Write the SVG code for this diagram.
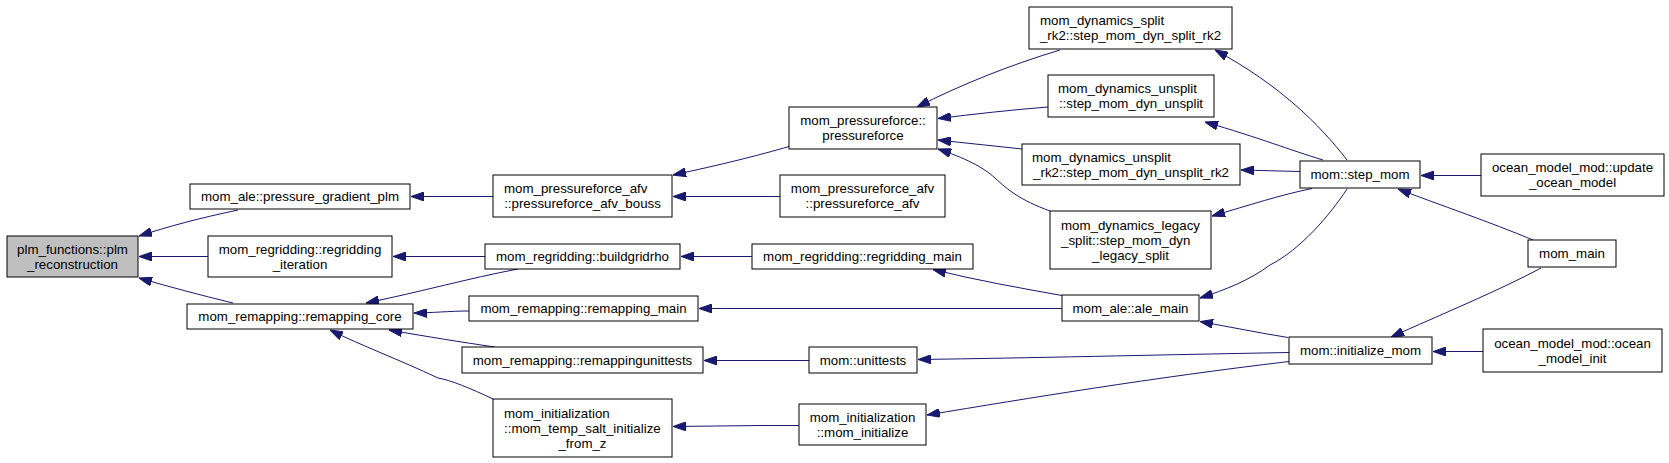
<svg xmlns="http://www.w3.org/2000/svg" width="1669" height="463" viewBox="0 0 1669 463">
<style>
.n rect{fill:#fff;stroke:#000;stroke-width:1}
.n text{font-family:"Liberation Sans",Arial,sans-serif;font-size:13.3px;fill:#000;text-anchor:middle}
.n text.s{text-anchor:start}
#edges path{fill:none;stroke:#191970;stroke-width:1;marker-end:url(#ah)}
</style>
<defs>
<marker id="ah" viewBox="0 0 13 9" markerWidth="13" markerHeight="9" refX="13" refY="4.5" orient="auto" markerUnits="userSpaceOnUse">
<path d="M0,0 L13,4.5 L0,9 z" fill="#191970" stroke="#191970" stroke-width="1"/>
</marker>
</defs>
<rect width="1669" height="463" fill="#fff"/>
<g id="edges">
<path d="M238,210 C200,218 170,226 139,236"/>
<path d="M208,256.5 L139,256.5"/>
<path d="M233,303 C200,295 170,287 139,278"/>
<path d="M493,196.5 L411,196.5"/>
<path d="M485,256.5 L393,256.5"/>
<path d="M518,269 C470,278 420,292 366,303"/>
<path d="M469,311 C450,311 430,313 414,313"/>
<path d="M495,347 C460,342 430,337 389,330"/>
<path d="M493,399 C470,388 450,380 438,378 C400,360 360,345 330,330"/>
<path d="M789,146.5 C760,155 720,165 673,175"/>
<path d="M780,196.5 L673,196.5"/>
<path d="M752,256.5 L681,256.5"/>
<path d="M1062,308.5 L699,308.5"/>
<path d="M809,360.5 L704,360.5"/>
<path d="M799,425.5 L761,425.5 L673,426.5"/>
<path d="M1060,50 C1010,65 960,85 917,107"/>
<path d="M1048,107 C1010,110 975,114 938,118.5"/>
<path d="M1022,149 C995,146 965,143 938,140"/>
<path d="M1050,211 C1020,200 1008,190 995,178 C983,167 965,158 938,149"/>
<path d="M1062,295.5 C1020,288 975,280 933,269.5"/>
<path d="M1347,160 C1320,125 1280,85 1215,50"/>
<path d="M1323,160 C1290,150 1260,138 1205,122"/>
<path d="M1300,171.5 C1280,171 1260,170.5 1241,170"/>
<path d="M1312,188.5 C1280,195 1250,205 1212,216"/>
<path d="M1347,189 C1330,215 1300,250 1270,265 C1250,280 1225,290 1200,298"/>
<path d="M1288,337.5 C1260,333 1230,327 1200,321.5"/>
<path d="M1289,352.5 C1150,355 1030,358 918,359.5"/>
<path d="M1289,361.5 C1150,378 1030,398 927,415"/>
<path d="M1481,175.5 L1421,175.5"/>
<path d="M1533,240 C1490,222 1440,205 1398,189"/>
<path d="M1541,268 C1500,290 1440,315 1391,337"/>
<path d="M1483,351.5 L1433,351.5"/>
</g>
<g id="plm_reconstruction" class="n"><rect x="7" y="236" width="131" height="41" style="fill:#bfbfbf"/><text x="72.5" y="253.5">plm_functions::plm</text><text x="72.5" y="268.5">_reconstruction</text></g>
<g id="pressure_gradient_plm" class="n"><rect x="190" y="184" width="220" height="25"/><text x="300" y="201">mom_ale::pressure_gradient_plm</text></g>
<g id="regridding_iteration" class="n"><rect x="208" y="236" width="184" height="41"/><text x="300" y="253.5">mom_regridding::regridding</text><text x="300" y="268.5">_iteration</text></g>
<g id="remapping_core" class="n"><rect x="187" y="304" width="226" height="25"/><text x="300" y="321">mom_remapping::remapping_core</text></g>
<g id="pressureforce_afv_bouss" class="n"><rect x="493" y="175" width="179" height="42"/><text class="s" x="504" y="193">mom_pressureforce_afv</text><text x="582.5" y="208">::pressureforce_afv_bouss</text></g>
<g id="buildgridrho" class="n"><rect x="485" y="244" width="195" height="25"/><text x="582.5" y="261">mom_regridding::buildgridrho</text></g>
<g id="remapping_main" class="n"><rect x="469" y="296" width="229" height="25"/><text x="583.5" y="313">mom_remapping::remapping_main</text></g>
<g id="remappingunittests" class="n"><rect x="462" y="347" width="241" height="26"/><text x="582.5" y="364.5">mom_remapping::remappingunittests</text></g>
<g id="temp_salt_initialize_from_z" class="n"><rect x="493" y="399" width="179" height="58"/><text class="s" x="504" y="417.5">mom_initialization</text><text class="s" x="504" y="432.5">::mom_temp_salt_initialize</text><text x="582.5" y="447.5">_from_z</text></g>
<g id="pressureforce" class="n"><rect x="789" y="107" width="148" height="42"/><text x="863" y="125">mom_pressureforce::</text><text x="863" y="140">pressureforce</text></g>
<g id="pressureforce_afv" class="n"><rect x="780" y="175" width="165" height="42"/><text x="862.5" y="193">mom_pressureforce_afv</text><text x="862.5" y="208">::pressureforce_afv</text></g>
<g id="regridding_main" class="n"><rect x="752" y="244" width="221" height="25"/><text x="862.5" y="261">mom_regridding::regridding_main</text></g>
<g id="unittests" class="n"><rect x="809" y="347" width="108" height="26"/><text x="863" y="364.5">mom::unittests</text></g>
<g id="mom_initialize" class="n"><rect x="799" y="404" width="127" height="41"/><text x="862.5" y="421.5">mom_initialization</text><text x="862.5" y="436.5">::mom_initialize</text></g>
<g id="step_mom_dyn_split_rk2" class="n"><rect x="1029" y="7" width="203" height="42"/><text class="s" x="1040" y="25">mom_dynamics_split</text><text x="1130.5" y="40">_rk2::step_mom_dyn_split_rk2</text></g>
<g id="step_mom_dyn_unsplit" class="n"><rect x="1048" y="75" width="166" height="42"/><text class="s" x="1058" y="93">mom_dynamics_unsplit</text><text x="1131" y="108">::step_mom_dyn_unsplit</text></g>
<g id="step_mom_dyn_unsplit_rk2" class="n"><rect x="1022" y="144" width="218" height="41"/><text class="s" x="1032" y="161.5">mom_dynamics_unsplit</text><text x="1131" y="176.5">_rk2::step_mom_dyn_unsplit_rk2</text></g>
<g id="step_mom_dyn_legacy_split" class="n"><rect x="1050" y="211" width="161" height="58"/><text class="s" x="1061" y="229.5">mom_dynamics_legacy</text><text class="s" x="1061" y="244.5">_split::step_mom_dyn</text><text x="1130.5" y="259.5">_legacy_split</text></g>
<g id="ale_main" class="n"><rect x="1062" y="295" width="137" height="26"/><text x="1130.5" y="312.5">mom_ale::ale_main</text></g>
<g id="step_mom" class="n"><rect x="1300" y="161" width="120" height="27"/><text x="1360" y="179">mom::step_mom</text></g>
<g id="initialize_mom" class="n"><rect x="1289" y="337" width="143" height="27"/><text x="1360.5" y="355">mom::initialize_mom</text></g>
<g id="update_ocean_model" class="n"><rect x="1481" y="154" width="183" height="42"/><text x="1572.5" y="172">ocean_model_mod::update</text><text x="1572.5" y="187">_ocean_model</text></g>
<g id="mom_main" class="n"><rect x="1528" y="240" width="88" height="27"/><text x="1572" y="258">mom_main</text></g>
<g id="ocean_model_init" class="n"><rect x="1483" y="329" width="179" height="43"/><text x="1572.5" y="347.5">ocean_model_mod::ocean</text><text x="1572.5" y="362.5">_model_init</text></g>
</svg>
